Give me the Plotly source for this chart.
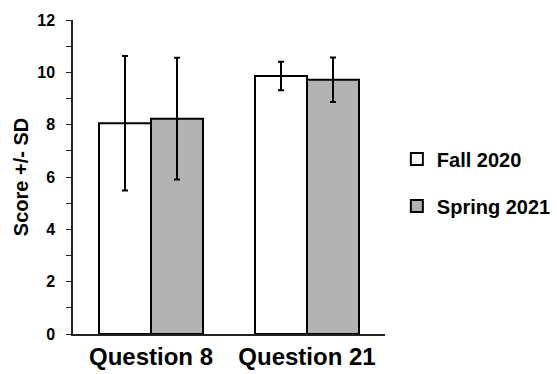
import plotly.graph_objects as go

# Mean scores and standard deviations per question and semester
questions = ["Question 8", "Question 21"]
fall_2020_mean = [8.05, 9.86]
fall_2020_sd = [2.57, 0.54]
spring_2021_mean = [8.23, 9.72]
spring_2021_sd = [2.33, 0.85]

font_family = "Liberation Sans, Arial, sans-serif"

fig = go.Figure()
fig.add_trace(go.Bar(
    name="Fall 2020", x=questions, y=fall_2020_mean,
    error_y=dict(type="data", array=fall_2020_sd, visible=True,
                 color="black", thickness=2, width=3),
    marker=dict(color="white", line=dict(color="black", width=2)),
    legendgroup="a",
))
fig.add_trace(go.Bar(
    name="Spring 2021", x=questions, y=spring_2021_mean,
    error_y=dict(type="data", array=spring_2021_sd, visible=True,
                 color="black", thickness=2, width=3),
    marker=dict(color="#b3b3b3", line=dict(color="black", width=2)),
    legendgroup="b",
))

fig.update_layout(
    width=557, height=374,
    margin=dict(l=73, r=172, t=20, b=40, autoexpand=False),
    paper_bgcolor="white", plot_bgcolor="white",
    barmode="group", bargap=1/3, bargroupgap=0,
    font=dict(family=font_family, color="black"),
    showlegend=True,
    legend=dict(x=1.038, y=0.4825, xanchor="left", yanchor="middle",
                font=dict(size=20, family=font_family, weight="bold"),
                tracegroupgap=18, traceorder="grouped",
                itemwidth=30, bgcolor="rgba(0,0,0,0)"),
    xaxis=dict(range=[-0.5, 1.5], showline=True, linecolor="#222",
               linewidth=1.5, ticks="", automargin=False,
               tickfont=dict(size=24, weight="bold"), showgrid=False),
    yaxis=dict(range=[0, 12], dtick=2, showline=True, linecolor="#222",
               linewidth=1.5, ticks="outside", ticklen=5, tickcolor="#222",
               tickwidth=1, showgrid=False, zeroline=False,
               automargin=False, ticklabelstandoff=8,
               tickfont=dict(size=16, weight="bold"),
               minor=dict(dtick=1, ticks="outside", ticklen=5,
                          tickcolor="#222", tickwidth=1),
               title=dict(text="Score +/- SD", standoff=3,
                          font=dict(size=20, weight="bold"))),
)

fig.write_html("out.html")
